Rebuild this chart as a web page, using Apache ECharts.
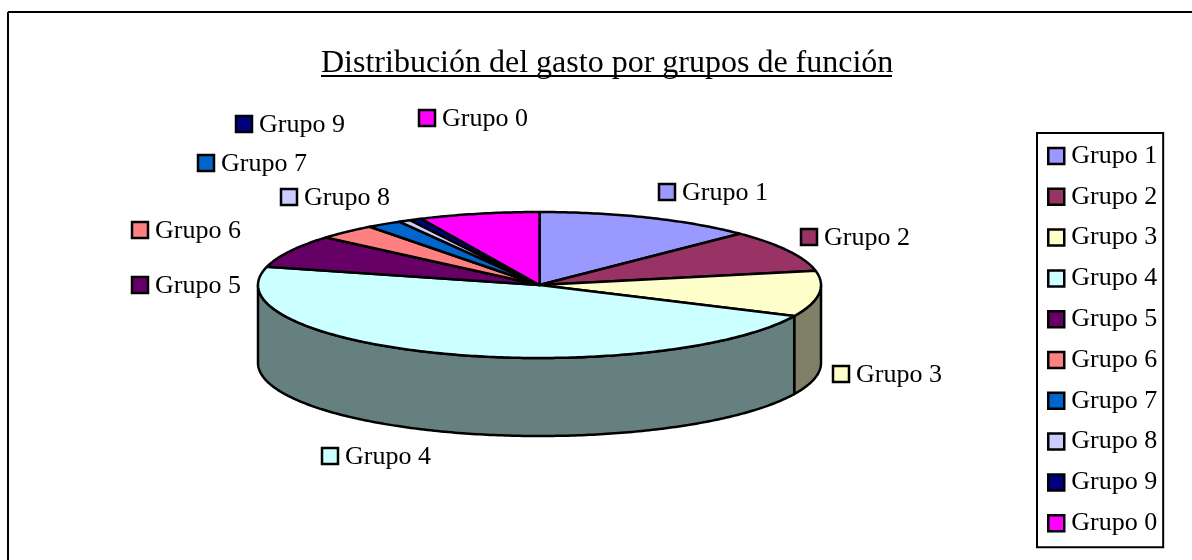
<!DOCTYPE html>
<html><head><meta charset="utf-8">
<style>html,body{margin:0;padding:0;background:#fff}#c{width:1192px;height:560px}</style>
<script src="https://cdn.jsdelivr.net/npm/echarts@6/dist/echarts.min.js"></script>
</head><body><div id="c"></div>
<script>
const categories = ['Grupo 1','Grupo 2','Grupo 3','Grupo 4','Grupo 5','Grupo 6','Grupo 7','Grupo 8','Grupo 9','Grupo 0'];
const shares = [12.6, 9.3, 10.1, 47.0, 7.3, 3.4, 2.0, 0.7, 0.7, 6.9];
const colors = ['#9999FF','#993366','#FFFFCC','#CCFFFF','#660066','#FF8080','#0066CC','#CCCCFF','#000080','#FF00FF'];
const titleText = 'Distribución del gasto por grupos de función';

// layout of the tilted pie and of the hand-placed slice labels
const PIE = {cx:539.5, cy:285, rx:281.5, ry:73, depth:78};
const LABEL_AT = [[659,192],[801,237],[833,374],[322,456],[132,285],[132,230],[198,163],[281,197],[236,124],[419,118]];
const FONT = 'Liberation Serif';
const total = shares.reduce((a,b)=>a+b,0);

function rim(t, drop){
  return [PIE.cx + PIE.rx*Math.sin(t), PIE.cy - PIE.ry*Math.cos(t) + (drop||0)];
}
function arc(a,b,drop){
  const n = Math.max(2, Math.ceil((b-a)/(Math.PI/240)));
  const pts=[];
  for(let i=0;i<=n;i++) pts.push(rim(a+(b-a)*i/n,drop));
  return pts;
}
function darken(hex){
  const n=parseInt(hex.slice(1),16);
  const f=v=>Math.round(v*0.5);
  return 'rgb('+f(n>>16&255)+','+f(n>>8&255)+','+f(n&255)+')';
}
function renderSlice(params, api){
  const i = params.seriesIndex;
  const v = api.value(0);
  let before = 0;
  for(let k=0;k<i;k++) before += shares[k];
  const a = before/total*2*Math.PI, b = (before+v)/total*2*Math.PI;
  const children = [];
  const line = {stroke:'#000', lineWidth:2.5, lineJoin:'round'};
  const sa = Math.max(a, Math.PI/2), sb = Math.min(b, 3*Math.PI/2);
  if(sb>sa){
    const pts = arc(sa,sb,0).concat(arc(sa,sb,PIE.depth).reverse());
    children.push({type:'polygon', z2:1, shape:{points:pts}, style:Object.assign({fill:darken(colors[i])},line)});
  }
  children.push({type:'polygon', z2:2, shape:{points:[[PIE.cx,PIE.cy]].concat(arc(a,b,0))},
    style:Object.assign({fill:colors[i]},line)});
  const p = LABEL_AT[i];
  children.push({type:'rect', z2:3, shape:{x:p[0],y:p[1]-8,width:16,height:16},
    style:{fill:colors[i],stroke:'#000',lineWidth:2.5}});
  children.push({type:'text', z2:3, style:{x:p[0]+23,y:p[1]+1,text:categories[i],fill:'#000',
    fontFamily:FONT,fontSize:26,verticalAlign:'middle',align:'left'}});
  return {type:'group', children};
}
const chart = echarts.init(document.getElementById('c'));
chart.setOption({
  animation:false,
  backgroundColor:'#fff',
  title:{text:titleText,left:321,top:48,itemGap:0,padding:0,
    textStyle:{fontFamily:FONT,fontSize:32,fontWeight:'normal',color:'#000'}},
  legend:{orient:'vertical',left:1037,top:133,padding:[10,6,11,10],itemGap:14.8,itemWidth:16,itemHeight:16,
    borderColor:'#000',borderWidth:2,selectedMode:false,icon:'rect',
    textStyle:{fontFamily:FONT,fontSize:26,color:'#000',padding:[0,0,0,2]},
    data:categories.map((n,i)=>({name:n,itemStyle:{color:colors[i],borderColor:'#000',borderWidth:2.5}}))},
  graphic:[
    {type:'line',silent:true,shape:{x1:8,y1:12,x2:1192,y2:12},style:{stroke:'#000',lineWidth:2}},
    {type:'line',silent:true,shape:{x1:8,y1:12,x2:8,y2:560},style:{stroke:'#000',lineWidth:2}},
    {type:'line',silent:true,shape:{x1:321,y1:76,x2:892,y2:76},style:{stroke:'#000',lineWidth:2}}
  ],
  series:categories.map((n,i)=>({
    type:'custom',name:n,coordinateSystem:'none',silent:true,
    itemStyle:{color:colors[i]},
    data:[[shares[i]]],renderItem:renderSlice
  }))
});
</script></body></html>
